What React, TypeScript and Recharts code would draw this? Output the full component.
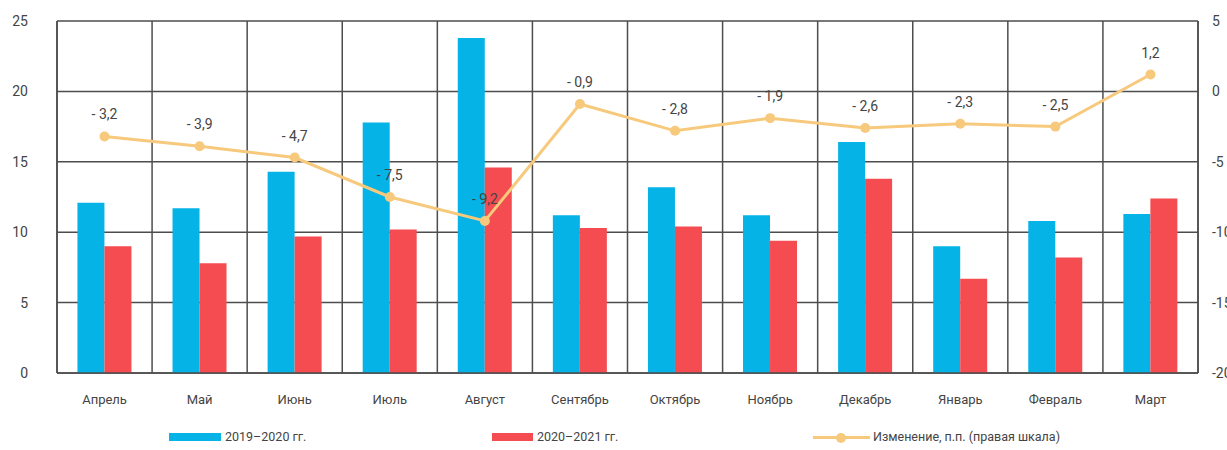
import { ComposedChart, Bar, Line, XAxis, YAxis, CartesianGrid, LabelList } from "recharts"

const months = ["Апрель", "Май", "Июнь", "Июль", "Август", "Сентябрь", "Октябрь", "Ноябрь", "Декабрь", "Январь", "Февраль", "Март"]
const y2019 = [12.1, 11.7, 14.3, 17.8, 23.8, 11.2, 13.2, 11.2, 16.4, 9.0, 10.8, 11.3]
const y2020 = [9.0, 7.8, 9.7, 10.2, 14.6, 10.3, 10.4, 9.4, 13.8, 6.7, 8.2, 12.4]
const change = [-3.2, -3.9, -4.7, -7.5, -9.2, -0.9, -2.8, -1.9, -2.6, -2.3, -2.5, 1.2]
const leftTicks = [0, 5, 10, 15, 20, 25]
const rightTicks = [-20, -15, -10, -5, 0, 5]

const BLUE = "#05b3e6"
const RED = "#f44c51"
const ORANGE = "#f7c97c"
const GRID = "#4d4d4d"
const FONT = "Roboto, 'Liberation Sans', sans-serif"

const data = months.map((m, i) => ({
  month: m,
  a: y2019[i],
  b: y2020[i],
  c: change[i],
}))

const fmt = (v: any) => {
  const n = Number(v)
  const s = Math.abs(n).toFixed(1).replace(".", ",")
  return n < 0 ? "- " + s : s
}

export default function App() {
  return (
    <div style={{ position: "absolute", left: 0, top: 0, width: 1227, height: 450, background: "#fff", fontFamily: FONT }}>
      <ComposedChart
        width={1227}
        height={450}
        data={data}
        margin={{ top: 21, right: 0, left: 0, bottom: 37 }}
        barCategoryGap="21.5%"
        barGap={0}
      >
        <CartesianGrid
          yAxisId="left"
          stroke={GRID}
          strokeWidth={1.5}
          verticalCoordinatesGenerator={({ offset }: any) =>
            months.map((_, i) => offset.left + (i * offset.width) / months.length).concat(offset.left + offset.width)
          }
        />
        <XAxis
          dataKey="month"
          axisLine={{ stroke: GRID, strokeWidth: 1.5 }}
          tickLine={false}
          tickMargin={16}
          height={40}
          tick={{ fontSize: 13, fill: "#444", fontFamily: FONT }}
        />
        <YAxis
          yAxisId="left"
          domain={[0, 25]}
          ticks={leftTicks}
          width={57}
          axisLine={{ stroke: GRID, strokeWidth: 1.5 }}
          tickLine={false}
          tickSize={0}
          tickMargin={29}
          tick={{ fontSize: 14, fill: "#444", fontFamily: FONT }}
        />
        <YAxis
          yAxisId="right"
          orientation="right"
          domain={[-20, 5]}
          ticks={rightTicks}
          width={29}
          axisLine={{ stroke: GRID, strokeWidth: 1.5 }}
          tickLine={false}
          tickSize={0}
          tickMargin={14}
          tick={{ fontSize: 14, fill: "#444", fontFamily: FONT }}
        />
        <Bar yAxisId="left" dataKey="a" fill={BLUE} isAnimationActive={false} />
        <Bar yAxisId="left" dataKey="b" fill={RED} isAnimationActive={false} />
        <Line
          yAxisId="right"
          dataKey="c"
          stroke={ORANGE}
          strokeWidth={3}
          dot={{ r: 5, fill: ORANGE, stroke: ORANGE, strokeWidth: 0 }}
          isAnimationActive={false}
        >
          <LabelList
            dataKey="c"
            position="top"
            offset={17}
            formatter={fmt}
            style={{ fontSize: 14, fill: "#444", fontFamily: FONT }}
          />
        </Line>
      </ComposedChart>
      <div style={{ position: "absolute", top: 429, left: 0, width: 1227, height: 18, fontSize: 12.5, color: "#444" }}>
        <div style={{ position: "absolute", left: 169, top: 4, width: 52, height: 8, background: BLUE }} />
        <div style={{ position: "absolute", left: 225, top: 0 }}>2019–2020 гг.</div>
        <div style={{ position: "absolute", left: 492, top: 4, width: 41, height: 8, background: RED }} />
        <div style={{ position: "absolute", left: 537, top: 0 }}>2020–2021 гг.</div>
        <div style={{ position: "absolute", left: 813, top: 7, width: 57, height: 3, background: ORANGE }} />
        <div style={{ position: "absolute", left: 836, top: 3.5, width: 10, height: 10, borderRadius: 5, background: ORANGE }} />
        <div style={{ position: "absolute", left: 873, top: 0 }}>Изменение, п.п. (правая шкала)</div>
      </div>
    </div>
  )
}
